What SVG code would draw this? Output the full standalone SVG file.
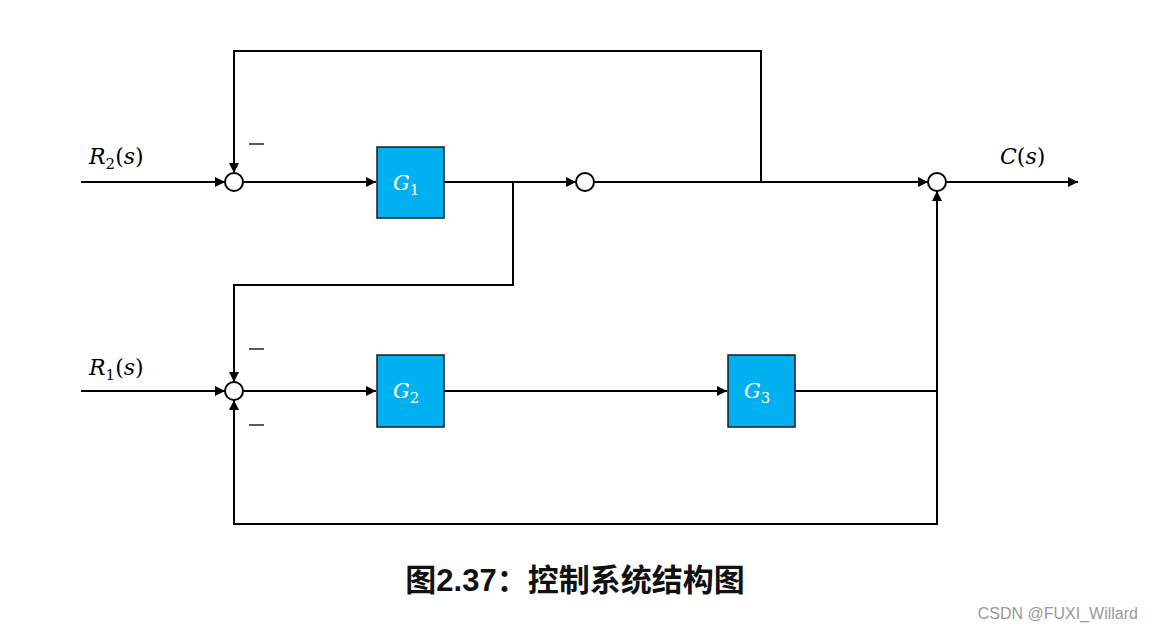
<svg xmlns="http://www.w3.org/2000/svg" width="1153" height="631" viewBox="0 0 1153 631">
<style>
.ln{fill:none;stroke:#000;stroke-width:2}
.sum{fill:#fff;stroke:#000;stroke-width:2}
.blk{fill:#00B0F0;stroke:#1a1a1a;stroke-width:1.5}
.m{font-family:"DejaVu Serif","Liberation Serif",serif;font-style:italic;font-size:22px;fill:#000}
.g{font-family:"DejaVu Serif","Liberation Serif",serif;font-style:italic;font-size:21px;fill:#fff}
.sub{font-size:15px;font-style:normal}
</style>
<defs>
<marker id="ah" viewBox="0 0 10 10" refX="10" refY="5" markerWidth="5" markerHeight="5" orient="auto" markerUnits="strokeWidth">
<path d="M0,0 L10,5 L0,10 z" fill="#000"/>
</marker>
</defs>
<rect width="1153" height="631" fill="#fff"/>
<g id="connectors">
<path class="ln" d="M81,182 H225" marker-end="url(#ah)"/>
<path class="ln" d="M243,182 H376" marker-end="url(#ah)"/>
<path class="ln" d="M444,182 H576" marker-end="url(#ah)"/>
<path class="ln" d="M594,182 H928" marker-end="url(#ah)"/>
<path class="ln" d="M946,182 H1078" marker-end="url(#ah)"/>
<path class="ln" d="M761,182 V51 H234 V173" marker-end="url(#ah)"/>
<path class="ln" d="M513,182 V285 H234 V382" marker-end="url(#ah)"/>
<path class="ln" d="M81,391 H225" marker-end="url(#ah)"/>
<path class="ln" d="M243,391 H376" marker-end="url(#ah)"/>
<path class="ln" d="M444,391 H727" marker-end="url(#ah)"/>
<path class="ln" d="M795,391 H937 V191" marker-end="url(#ah)"/>
<path class="ln" d="M937,391 V524 H234 V400" marker-end="url(#ah)"/>
</g>
<g id="sum1"><circle class="sum" cx="234" cy="182" r="9"/></g>
<g id="sum2"><circle class="sum" cx="585" cy="182" r="9"/></g>
<g id="sum3"><circle class="sum" cx="937" cy="182" r="9"/></g>
<g id="sum4"><circle class="sum" cx="234" cy="391" r="9"/></g>
<g id="G1"><rect class="blk" x="377" y="147" width="67" height="71"/><text class="g" x="393" y="190">G<tspan class="sub" dy="5">1</tspan></text></g>
<g id="G2"><rect class="blk" x="377" y="355" width="67" height="72"/><text class="g" x="393" y="398">G<tspan class="sub" dy="5">2</tspan></text></g>
<g id="G3"><rect class="blk" x="728" y="355" width="67" height="72"/><text class="g" x="744" y="398">G<tspan class="sub" dy="5">3</tspan></text></g>
<g id="labels">
<text class="m" x="89" y="164">R<tspan class="sub" dy="5">2</tspan><tspan dy="-5" font-style="normal">(</tspan>s<tspan font-style="normal">)</tspan></text>
<text class="m" x="89" y="375">R<tspan class="sub" dy="5">1</tspan><tspan dy="-5" font-style="normal">(</tspan>s<tspan font-style="normal">)</tspan></text>
<text class="m" x="1000" y="164">C<tspan font-style="normal">(</tspan>s<tspan font-style="normal">)</tspan></text>
<line x1="249" y1="144" x2="264" y2="144" stroke="#000" stroke-width="1.3"/>
<line x1="249" y1="349" x2="264" y2="349" stroke="#000" stroke-width="1.3"/>
<line x1="249" y1="425" x2="264" y2="425" stroke="#000" stroke-width="1.3"/>
</g>
<text x="575" y="591" text-anchor="middle" font-family="Liberation Sans,'Noto Sans CJK SC',sans-serif" font-weight="bold" font-size="31" fill="#111">图2.37：控制系统结构图</text>
<text x="1138" y="619" text-anchor="end" font-family="Liberation Sans,sans-serif" font-size="16" fill="#999">CSDN @FUXI_Willard</text>
</svg>
